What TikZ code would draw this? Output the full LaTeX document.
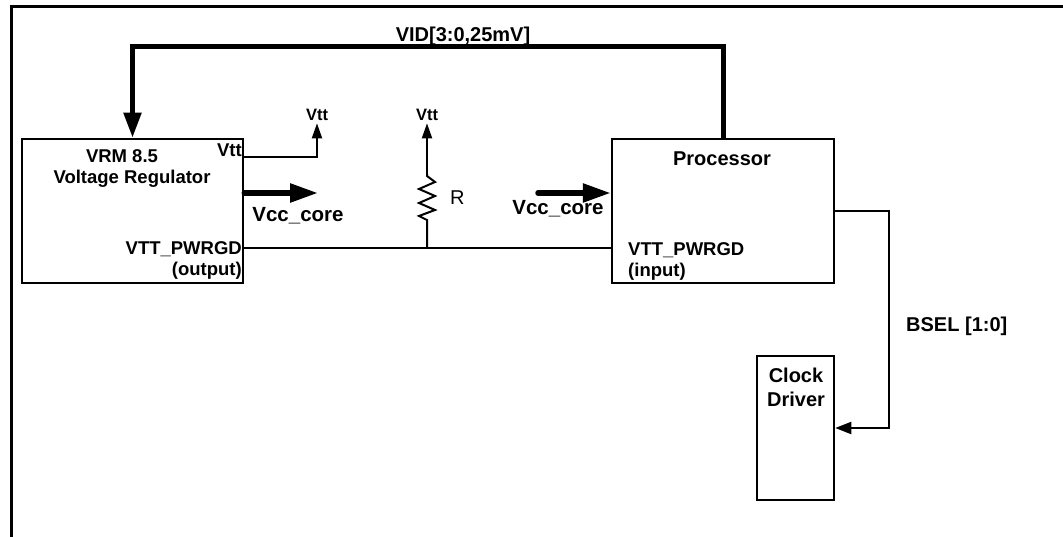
\documentclass[tikz,border=0pt]{standalone}
\usepackage{fontspec}
\setmainfont{Liberation Sans}
\usetikzlibrary{arrows.meta}
\begin{document}
\begin{tikzpicture}[x=1pt,y=-1pt,
  box/.style={draw,line width=2.5pt,inner sep=0,minimum height=144pt},
  lbl/.style={inner sep=0,font=\bfseries\fontsize{20}{23}\selectfont},
  vlbl/.style={inner sep=0,font=\bfseries\fontsize{20.5}{23}\selectfont},
  slbl/.style={inner sep=0,font=\bfseries\fontsize{18.5}{21}\selectfont},
  tlbl/.style={inner sep=0,font=\bfseries\fontsize{16.5}{19}\selectfont},
  wire/.style={line width=2pt},
  vidbus/.style={line width=5pt,-{Triangle[length=25pt,width=17pt]}},
  power/.style={line width=5.5pt,line cap=round,-{Triangle[length=28pt,width=18pt]}},
  vttarrow/.style={line width=2pt,-{Triangle[length=15pt,width=10pt]}},
  selarrow/.style={line width=2pt,-{Triangle[length=16pt,width=12pt]}}]
\useasboundingbox (0,0) rectangle (1063,537);
% frame
\draw[line width=3pt] (11,537) -- (11,7) -- (1063,7);
% boxes
\node[box,minimum width=221pt] (vrm) at (132.5,211) {};
\node[box,minimum width=222pt] (proc) at (723,211) {};
\node[box,minimum width=77pt] (clk) at (795.5,428) {};
% VRM texts
\node[slbl,anchor=base] (vrmA) at (122,163) {VRM 8.5};
\node[slbl,anchor=base] (vrmB) at (132,184) {Voltage Regulator};
\node[slbl,anchor=base east] (vrmVtt) at (242,157) {Vtt};
\node[slbl,anchor=base east] (vrmPg) at (242,255) {VTT\_PWRGD};
\node[slbl,anchor=base east] (vrmOut) at (242,276) {(output)};
% processor texts
\node[lbl,anchor=base] (procT) at (722,166) {Processor};
\node[slbl,anchor=base west] (procPg) at (628,256) {VTT\_PWRGD};
\node[slbl,anchor=base west] (procIn) at (628,277) {(input)};
% clock driver texts
\node[lbl,anchor=base] (clkA) at (796,382) {Clock};
\node[lbl,anchor=base] (clkB) at (796,406) {Driver};
% VID bus
\node[lbl,anchor=base] (vid) at (463,42) {VID[3:0,25mV]};
\draw[vidbus] (proc.north) -- ++(0,-91) -| (vrm.north);
% Vtt from VRM
\node[tlbl,anchor=base] (vtt1) at (317,121) {Vtt};
\draw[vttarrow] (vrm.east |- 0,157) -| ([yshift=-2pt]vtt1.south);
% resistor to Vtt
\node[tlbl,anchor=base] (vtt2) at (427,121) {Vtt};
\coordinate (junc) at (427,248);
\draw[wire] (junc) -- (427,220) -- (419,216) -- (435,210) -- (419,203) -- (435,196) -- (419,189) -- (435,182) -- (427,176) -- (427,174);
\draw[vttarrow] (427,175) -- ([yshift=-2pt]vtt2.south);
\node[inner sep=0,font=\fontsize{20}{24}\selectfont,anchor=base west] (rlbl) at (450,205) {R};
% VTT_PWRGD line
\draw[wire] (vrm.east |- 0,248) -- (proc.west |- 0,248);
% Vcc_core arrows
\coordinate (vccEnd) at (318,193);
\draw[power] (vrm.east |- 0,193) -- (vccEnd);
\node[vlbl,anchor=base] (vcc1) at (298,222) {Vcc\_core};
\coordinate (vccStart) at (538,193);
\draw[power] (vccStart) -- (proc.west |- 0,193);
\node[vlbl,anchor=base] (vcc2) at (558,215) {Vcc\_core};
% BSEL
\coordinate (bselCorner) at (889,211);
\draw[selarrow] (proc.east |- bselCorner) -- (bselCorner) |- (clk.east |- 0,428);
\node[lbl,anchor=base west] (bsel) at (906,332) {BSEL [1:0]};
\end{tikzpicture}
\end{document}
